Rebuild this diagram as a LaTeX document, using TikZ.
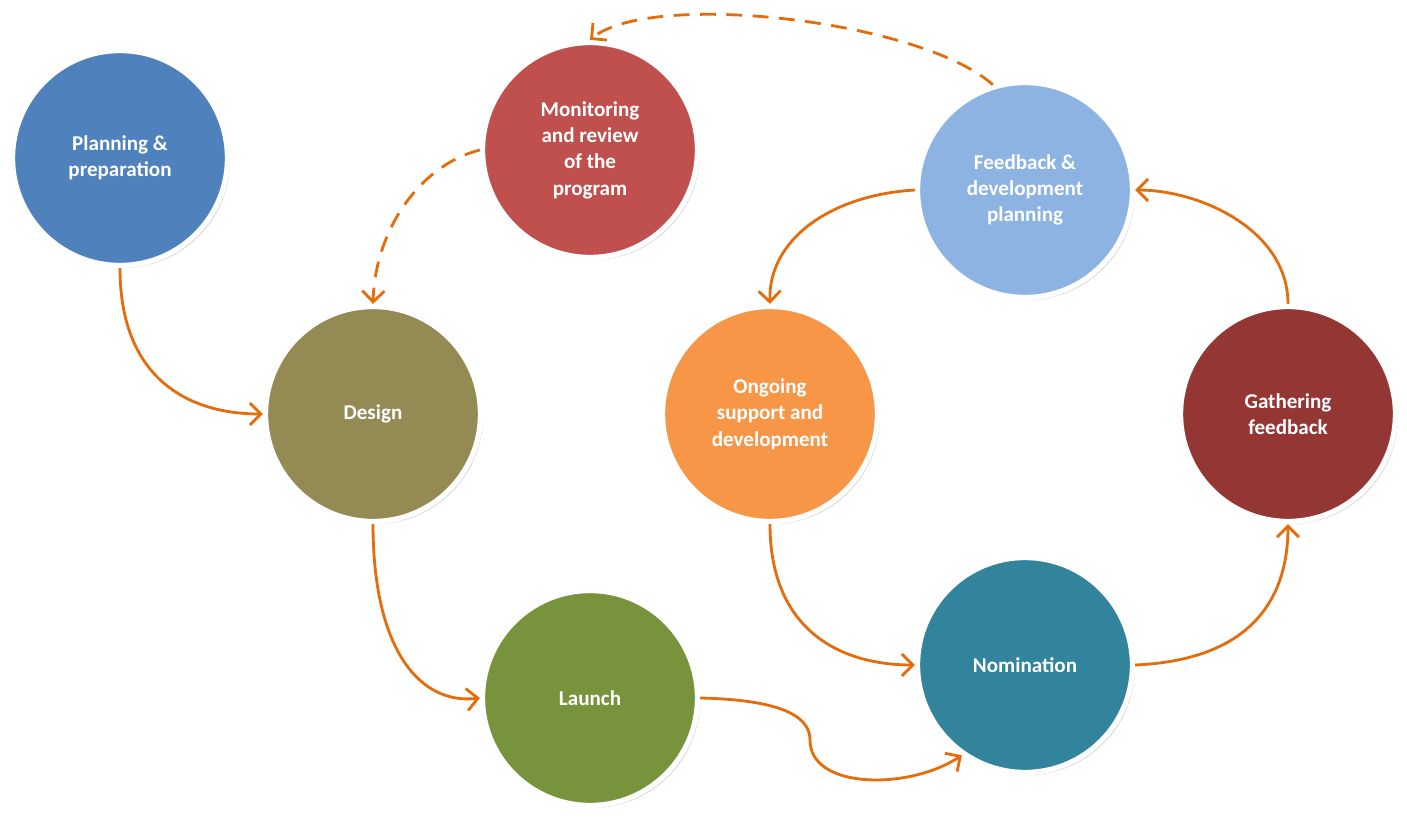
\documentclass[tikz,border=0pt]{standalone}
\usepackage{fontspec}
\setmainfont{Carlito}
\usetikzlibrary{arrows.meta,shadows}
\definecolor{flow}{HTML}{E46C0A}
\tikzset{>={Straight Barb[length=2.2mm,width=4.4mm,line width=1.6pt]}}
\tikzset{stage/.style={circle,draw=white,line width=3pt,minimum size=4.3cm,inner sep=0,
    align=center,text=white,font=\fontsize{12}{15}\selectfont\bfseries,
    drop shadow={shadow xshift=0.5mm,shadow yshift=-0.5mm,opacity=0.35}}}
\tikzset{flowline/.style={->,draw=flow,line width=1.6pt}}
\newcommand{\drawstage}{\node[stage]}

\begin{document}
\begin{tikzpicture}[x=0.02cm,y=-0.02cm]
	\useasboundingbox (0,0) rectangle (1407,821);
	
	\drawstage[fill={rgb,255:red,79;green,129;blue,189}] (plan) at (120,158) {Planning \&\\preparation};
	\drawstage[fill={rgb,255:red,192;green,80;blue,77}] (mon) at (590,150) {Monitoring\\and review\\of the\\program};
	\drawstage[fill={rgb,255:red,141;green,179;blue,226}] (fdp) at (1025,190) {Feedback \&\\development\\planning};
	\drawstage[fill={rgb,255:red,148;green,138;blue,84}] (design) at (373,414) {Design};
	\drawstage[fill={rgb,255:red,247;green,150;blue,70}] (ongo) at (770,414) {Ongoing\\support and\\development};
	\drawstage[fill={rgb,255:red,148;green,54;blue,52}] (gath) at (1288,414) {Gathering\\feedback};
	\drawstage[fill={rgb,255:red,119;green,147;blue,60}] (launch) at (590,698) {Launch};
	\drawstage[fill={rgb,255:red,49;green,132;blue,155}] (nom) at (1025,665) {Nomination};
	
	\coordinate (bend) at (810,740);
	
	\draw[flowline] (plan.south) .. controls (120,380) and (190,414) .. (design.west);
	\draw[flowline] (design.south) .. controls (373,650) and (420,705) .. (launch.west);
	\draw[flowline] (launch.east) .. controls (790,700) and (810,720) .. (bend)
		.. controls (810,790) and (910,790) .. (nom.-125);
	\draw[flowline] (ongo.south) .. controls (770,630) and (840,665) .. (nom.west);
	\draw[flowline] (nom.east) .. controls (1250,660) and (1288,600) .. (gath.south);
	\draw[flowline] (gath.north) .. controls (1288,230) and (1200,190) .. (fdp.east);
	\draw[flowline] (fdp.west) .. controls (830,195) and (768,240) .. (ongo.north);
	
	\draw[flowline,dashed,dash pattern=on 9pt off 6pt] (mon.west) .. controls (420,165) and (375,230) .. (design.north);
	\draw[flowline,dashed,dash pattern=on 9pt off 6pt] (fdp.107) .. controls (920,20) and (650,-10) .. (mon.north);
\end{tikzpicture}
\end{document}
